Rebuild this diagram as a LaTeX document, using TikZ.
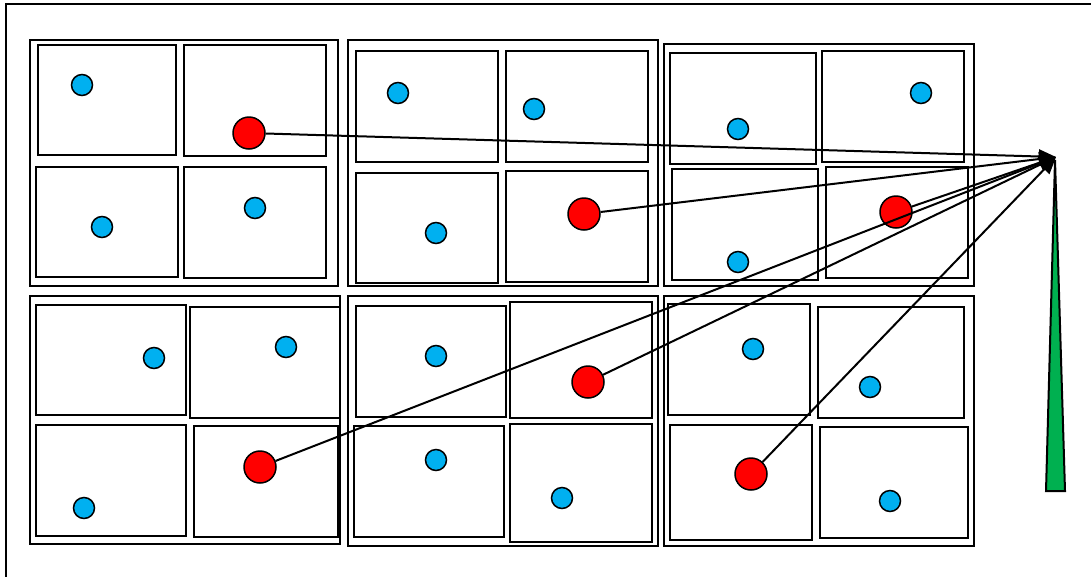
\documentclass[tikz,border=0pt]{standalone}
\usetikzlibrary{arrows.meta}
\usepackage{xcolor}
\definecolor{dotblue}{RGB}{0,176,240}
\definecolor{poleGreen}{RGB}{0,176,80}

\begin{document}
\begin{tikzpicture}[x=1pt, y=-1pt, line width=2pt, >={Triangle[length=17pt,width=14pt]},
  bdot/.style={circle, draw, fill=dotblue, minimum size=21pt, inner sep=0pt, line width=1.5pt},
  rdot/.style={circle, draw, fill=red, minimum size=32pt, inner sep=0pt, line width=1.5pt}]
  \useasboundingbox (0,0) rectangle (1091,576);
  \draw (6,4) rectangle (1110,600);
  % groups, top row
  \draw (30,40) rectangle (338,286); \draw (38,45) rectangle (176,155); \draw (184,45) rectangle (326,156);
  \draw (36,167) rectangle (178,277); \draw (184,167) rectangle (326,278);
  \draw (348,40) rectangle (658,286); \draw (356,51) rectangle (498,162); \draw (506,51) rectangle (648,162);
  \draw (356,173) rectangle (498,283); \draw (506,171) rectangle (648,282);
  \draw (664,44) rectangle (974,286); \draw (670,53) rectangle (816,164); \draw (822,51) rectangle (964,162);
  \draw (672,169) rectangle (818,280); \draw (826,167) rectangle (968,278);
  % groups, bottom row
  \draw (30,296) rectangle (340,544); \draw (36,305) rectangle (186,415); \draw (190,307) rectangle (340,418);
  \draw (36,425) rectangle (186,536); \draw (194,426) rectangle (338,537);
  \draw (348,296) rectangle (658,546); \draw (356,306) rectangle (506,417); \draw (510,302) rectangle (652,418);
  \draw (354,426) rectangle (504,537); \draw (510,424) rectangle (652,542);
  \draw (664,296) rectangle (974,546); \draw (668,304) rectangle (810,415); \draw (818,307) rectangle (964,418);
  \draw (670,425) rectangle (812,540); \draw (820,427) rectangle (968,538);
  % green pole
  \draw[fill=poleGreen] (1055,160) -- (1065,491) -- (1046,491) -- cycle;
  % blue dots
  \node[bdot] (b1) at (82,85) {}; \node[bdot] (b2) at (102,227) {}; \node[bdot] (b3) at (255,208) {};
  \node[bdot] (b4) at (398,93) {}; \node[bdot] (b5) at (534,109) {}; \node[bdot] (b6) at (436,233) {};
  \node[bdot] (b7) at (738,129) {}; \node[bdot] (b8) at (921,93) {}; \node[bdot] (b9) at (738,262) {};
  \node[bdot] (b10) at (154,358) {}; \node[bdot] (b11) at (286,347) {}; \node[bdot] (b12) at (84,508) {};
  \node[bdot] (b13) at (436,356) {}; \node[bdot] (b14) at (436,460) {}; \node[bdot] (b15) at (562,498) {};
  \node[bdot] (b16) at (753,349) {}; \node[bdot] (b17) at (870,387) {}; \node[bdot] (b18) at (890,501) {};
  % red dots and arrows
  \node[rdot] (r1) at (249,133) {}; \node[rdot] (r2) at (584,214) {}; \node[rdot] (r3) at (896,212) {};
  \node[rdot] (r4) at (260,467) {}; \node[rdot] (r5) at (588,382) {}; \node[rdot] (r6) at (751,474) {};
  \coordinate (tip) at (1056,157);
  \draw[->] (r1)--(tip); \draw[->] (r2)--(tip); \draw[->] (r3)--(tip);
  \draw[->] (r4)--(tip); \draw[->] (r5)--(tip); \draw[->] (r6)--(tip);
\end{tikzpicture}
\end{document}
